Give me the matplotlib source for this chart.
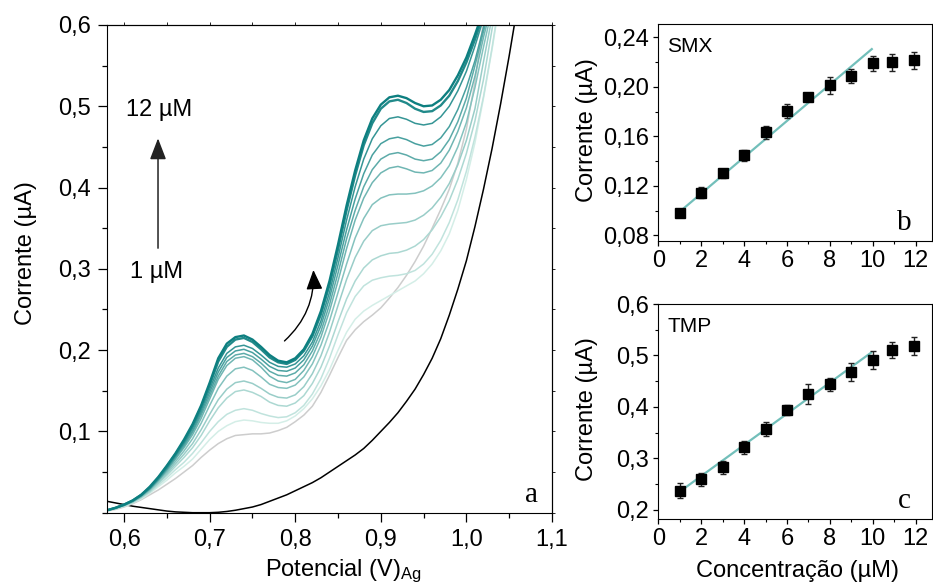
import numpy as np
import matplotlib.pyplot as plt
from matplotlib.ticker import FixedLocator, MultipleLocator, FuncFormatter
from matplotlib.colors import LinearSegmentedColormap

plt.rcParams['font.family'] = ['Liberation Sans', 'DejaVu Sans']
plt.rcParams['mathtext.fontset'] = 'custom'
plt.rcParams['mathtext.rm'] = 'Liberation Sans'
plt.rcParams['mathtext.it'] = 'Liberation Sans'

# --- (a) voltammograms: potential (V) and current (uA) ---
potential = [0.58, 0.59, 0.60, 0.61, 0.62, 0.63, 0.64, 0.65, 0.66, 0.67, 0.68, 0.69, 0.70,
             0.71, 0.72, 0.73, 0.74, 0.75, 0.76, 0.77, 0.78, 0.79, 0.80, 0.81, 0.82, 0.83,
             0.84, 0.85, 0.86, 0.87, 0.88, 0.89, 0.90, 0.91, 0.92, 0.93, 0.94, 0.95, 0.96,
             0.97, 0.98, 0.99, 1.00, 1.01, 1.02, 1.03, 1.04, 1.05, 1.06]

blank = [0.014, 0.012, 0.010, 0.008, 0.0065, 0.005, 0.0035, 0.002, 0.001, 0.0005, 0.000, 0.000, 0.000,
         0.0005, 0.0015, 0.003, 0.005, 0.007, 0.010, 0.014, 0.018, 0.022, 0.027, 0.032, 0.037, 0.043,
         0.050, 0.057, 0.064, 0.071, 0.079, 0.089, 0.100, 0.111, 0.123, 0.137, 0.152, 0.170, 0.190,
         0.214, 0.243, 0.275, 0.310, 0.352, 0.398, 0.448, 0.503, 0.562, 0.625]

cur_01 = [0.002, 0.004, 0.007, 0.011, 0.016, 0.022, 0.028, 0.035, 0.042, 0.050, 0.058, 0.068, 0.077,
          0.085, 0.091, 0.095, 0.096, 0.097, 0.097, 0.098, 0.101, 0.105, 0.112, 0.120, 0.131, 0.148,
          0.169, 0.191, 0.212, 0.225, 0.235, 0.243, 0.252, 0.264, 0.277, 0.292, 0.309, 0.328, 0.350,
          0.373, 0.398, 0.430, 0.472, 0.530, 0.605, 0.690, 0.780, 0.860, 0.950]
cur_02 = [0.003, 0.005, 0.008, 0.012, 0.017, 0.024, 0.032, 0.040, 0.049, 0.057, 0.066, 0.078, 0.090,
          0.100, 0.107, 0.112, 0.114, 0.113, 0.111, 0.110, 0.110, 0.113, 0.119, 0.128, 0.140, 0.156,
          0.176, 0.200, 0.222, 0.238, 0.248, 0.255, 0.261, 0.267, 0.273, 0.279, 0.285, 0.294, 0.306,
          0.322, 0.343, 0.372, 0.410, 0.455, 0.510, 0.570, 0.635, 0.700, 0.745]
cur_03 = [0.003, 0.005, 0.008, 0.012, 0.018, 0.025, 0.034, 0.043, 0.053, 0.062, 0.073, 0.086, 0.100,
          0.112, 0.121, 0.126, 0.128, 0.126, 0.122, 0.119, 0.117, 0.118, 0.123, 0.132, 0.146, 0.165,
          0.190, 0.219, 0.246, 0.266, 0.279, 0.286, 0.289, 0.291, 0.292, 0.294, 0.298, 0.306, 0.318,
          0.335, 0.357, 0.385, 0.420, 0.462, 0.512, 0.572, 0.640, 0.700, 0.745]
cur_04 = [0.003, 0.005, 0.009, 0.013, 0.019, 0.026, 0.036, 0.046, 0.057, 0.068, 0.080, 0.095, 0.113,
          0.129, 0.141, 0.149, 0.151, 0.148, 0.143, 0.136, 0.132, 0.131, 0.135, 0.144, 0.159, 0.179,
          0.205, 0.235, 0.263, 0.285, 0.301, 0.311, 0.316, 0.319, 0.320, 0.323, 0.328, 0.336, 0.348,
          0.364, 0.384, 0.410, 0.442, 0.482, 0.533, 0.595, 0.655, 0.700, 0.745]
cur_05 = [0.003, 0.005, 0.009, 0.013, 0.019, 0.027, 0.037, 0.048, 0.060, 0.072, 0.085, 0.102, 0.121,
          0.139, 0.152, 0.160, 0.162, 0.159, 0.153, 0.146, 0.142, 0.141, 0.145, 0.155, 0.171, 0.193,
          0.222, 0.255, 0.287, 0.314, 0.334, 0.347, 0.353, 0.355, 0.356, 0.357, 0.360, 0.366, 0.375,
          0.388, 0.405, 0.428, 0.458, 0.497, 0.555, 0.610, 0.660, 0.705, 0.745]
cur_06 = [0.003, 0.006, 0.009, 0.014, 0.020, 0.028, 0.039, 0.050, 0.063, 0.076, 0.091, 0.110, 0.132,
          0.153, 0.168, 0.177, 0.179, 0.175, 0.167, 0.158, 0.154, 0.153, 0.157, 0.167, 0.183, 0.206,
          0.236, 0.271, 0.306, 0.338, 0.362, 0.379, 0.387, 0.391, 0.392, 0.392, 0.393, 0.396, 0.402,
          0.412, 0.427, 0.450, 0.480, 0.523, 0.573, 0.620, 0.665, 0.710, 0.750]
cur_07 = [0.003, 0.006, 0.009, 0.014, 0.020, 0.029, 0.040, 0.052, 0.066, 0.080, 0.096, 0.116, 0.140,
          0.164, 0.181, 0.190, 0.192, 0.188, 0.179, 0.168, 0.162, 0.160, 0.164, 0.175, 0.192, 0.216,
          0.248, 0.285, 0.325, 0.360, 0.387, 0.406, 0.418, 0.424, 0.426, 0.423, 0.419, 0.418, 0.421,
          0.430, 0.446, 0.469, 0.498, 0.537, 0.585, 0.626, 0.668, 0.710, 0.750]
cur_08 = [0.003, 0.006, 0.009, 0.014, 0.021, 0.029, 0.040, 0.053, 0.067, 0.082, 0.099, 0.120, 0.144,
          0.168, 0.186, 0.194, 0.196, 0.192, 0.184, 0.174, 0.169, 0.168, 0.172, 0.182, 0.199, 0.223,
          0.256, 0.295, 0.337, 0.372, 0.401, 0.422, 0.435, 0.441, 0.443, 0.440, 0.435, 0.433, 0.435,
          0.444, 0.459, 0.481, 0.510, 0.550, 0.592, 0.630, 0.670, 0.710, 0.750]
cur_09 = [0.003, 0.006, 0.010, 0.014, 0.021, 0.030, 0.041, 0.054, 0.069, 0.084, 0.101, 0.123, 0.148,
          0.173, 0.191, 0.199, 0.201, 0.197, 0.189, 0.180, 0.175, 0.174, 0.178, 0.188, 0.205, 0.230,
          0.264, 0.305, 0.348, 0.386, 0.417, 0.440, 0.454, 0.460, 0.462, 0.459, 0.454, 0.451, 0.453,
          0.461, 0.475, 0.496, 0.523, 0.556, 0.597, 0.634, 0.672, 0.710, 0.750]
cur_10 = [0.003, 0.006, 0.010, 0.015, 0.021, 0.030, 0.042, 0.055, 0.070, 0.086, 0.104, 0.126, 0.152,
          0.178, 0.196, 0.204, 0.206, 0.202, 0.194, 0.185, 0.180, 0.179, 0.183, 0.193, 0.210, 0.236,
          0.271, 0.314, 0.360, 0.401, 0.435, 0.460, 0.476, 0.485, 0.487, 0.484, 0.479, 0.477, 0.479,
          0.487, 0.500, 0.519, 0.543, 0.574, 0.608, 0.642, 0.677, 0.713, 0.750]
cur_11 = [0.003, 0.006, 0.010, 0.015, 0.022, 0.031, 0.043, 0.057, 0.072, 0.088, 0.107, 0.130, 0.157,
          0.186, 0.204, 0.213, 0.215, 0.210, 0.201, 0.191, 0.185, 0.183, 0.188, 0.199, 0.217, 0.244,
          0.280, 0.324, 0.372, 0.415, 0.452, 0.479, 0.497, 0.506, 0.508, 0.504, 0.497, 0.493, 0.494,
          0.501, 0.513, 0.531, 0.554, 0.582, 0.613, 0.646, 0.681, 0.717, 0.755]
cur_12 = [0.003, 0.006, 0.010, 0.015, 0.022, 0.032, 0.044, 0.058, 0.073, 0.090, 0.109, 0.132, 0.160,
          0.190, 0.208, 0.216, 0.218, 0.213, 0.204, 0.194, 0.187, 0.185, 0.190, 0.201, 0.220, 0.248,
          0.285, 0.330, 0.378, 0.421, 0.458, 0.485, 0.502, 0.511, 0.513, 0.510, 0.504, 0.500, 0.501,
          0.508, 0.520, 0.538, 0.560, 0.588, 0.618, 0.650, 0.685, 0.720, 0.760]

currents = [cur_01, cur_02, cur_03, cur_04, cur_05, cur_06,
            cur_07, cur_08, cur_09, cur_10, cur_11, cur_12]

# --- (b), (c) calibration ---
conc = [1, 2, 3, 4, 5, 6, 7, 8, 9, 10, 10.9, 11.9]
smx = [0.0978, 0.1144, 0.1301, 0.1446, 0.1632, 0.1804, 0.1920, 0.2012, 0.2085, 0.2190, 0.2198, 0.2214]
smx_err = [0.001, 0.0043, 0.0036, 0.0043, 0.0054, 0.0057, 0.003, 0.007, 0.0057, 0.006, 0.0067, 0.0067]
tmp = [0.2364, 0.2591, 0.2825, 0.3214, 0.3570, 0.3940, 0.4250, 0.4440, 0.4673, 0.4906, 0.5100, 0.5180]
tmp_err = [0.0146, 0.013, 0.013, 0.013, 0.0133, 0.009, 0.0185, 0.0123, 0.0178, 0.0172, 0.0152, 0.0175]

fit_smx_x = [1.0, 9.95]
fit_smx_y = [0.0991, 0.2305]
fit_tmp_x = [0.93, 9.92]
fit_tmp_y = [0.233, 0.5055]

xticks_a = [0.6, 0.7, 0.8, 0.9, 1.0, 1.1]
yticks_a = [0.1, 0.2, 0.3, 0.4, 0.5, 0.6]
xticks_bc = [0, 2, 4, 6, 8, 10, 12]
yticks_b = [0.08, 0.12, 0.16, 0.20, 0.24]
yticks_c = [0.2, 0.3, 0.4, 0.5, 0.6]

FS = 17


def comma(fmt):
    return FuncFormatter(lambda v, p: fmt.format(v).replace('.', ','))


fig = plt.figure(figsize=(9.33, 5.85), dpi=100)

# ---------------- panel a ----------------
ax = fig.add_axes([0.1147, 0.1236, 0.4769, 0.8337])
teal = LinearSegmentedColormap.from_list('teal', ['#d4eee7', '#0d7f80'])
colors = ['#cdcdcd'] + [teal(k / 10) for k in range(11)]

ax.plot(potential, blank, color='black', lw=1.1)
for k, cur in enumerate(currents):
    lw = 1.7 if k >= 10 else 1.1
    ax.plot(potential, cur, color=colors[k], lw=lw)

ax.set_xlim(0.58, 1.1)
ax.set_ylim(0, 0.6)
ax.xaxis.set_major_locator(FixedLocator(xticks_a))
ax.yaxis.set_major_locator(FixedLocator(yticks_a))
ax.xaxis.set_minor_locator(MultipleLocator(0.05))
ax.yaxis.set_minor_locator(MultipleLocator(0.05))
ax.xaxis.set_major_formatter(comma('{:.1f}'))
ax.yaxis.set_major_formatter(comma('{:.1f}'))
ax.tick_params(which='major', length=6.5, width=0.9, pad=5, labelsize=FS)
ax.tick_params(which='minor', length=3.5, width=0.9)

sec_x = ax.secondary_xaxis('top')
sec_x.xaxis.set_major_locator(MultipleLocator(0.05))
sec_x.tick_params(length=2, width=0.6, labeltop=False)
sec_y = ax.secondary_yaxis('right')
sec_y.yaxis.set_major_locator(MultipleLocator(0.05))
sec_y.tick_params(length=2, width=0.6, labelright=False)

ax.set_ylabel('Corrente (µA)', fontsize=FS)
ax.yaxis.set_label_coords(-0.157, 0.532)
ax.set_xlabel('Potencial (V)$_{\\rm Ag}$', fontsize=FS)
ax.xaxis.set_label_coords(0.53, -0.092)

ax.annotate('', xy=(0.6396, 0.464), xytext=(0.6396, 0.322),
            arrowprops=dict(arrowstyle='-|>,head_length=0.65,head_width=0.25',
                            color='#222222', lw=1.1, mutation_scale=20))
ax.text(0.641, 0.495, '12 µM', ha='center', va='center', fontsize=FS)
ax.text(0.638, 0.296, '1 µM', ha='center', va='center', fontsize=FS)
ax.annotate('', xy=(0.821, 0.302), xytext=(0.785, 0.209),
            arrowprops=dict(arrowstyle='-|>,head_length=0.6,head_width=0.25',
                            color='black', lw=1.0, mutation_scale=20,
                            connectionstyle='arc3,rad=0.25'))
ax.text(0.955, 0.036, 'a', transform=ax.transAxes, ha='center', va='center',
        family='Liberation Serif', fontsize=21)

# ---------------- panels b and c ----------------
axb = fig.add_axes([0.7056, 0.5885, 0.2934, 0.3705])
axc = fig.add_axes([0.7056, 0.1123, 0.2934, 0.3680])

panels = [
    (axb, smx, smx_err, fit_smx_x, fit_smx_y, (0.0756, 0.2508), yticks_b, 0.02, '{:.2f}', 'SMX', 'b'),
    (axc, tmp, tmp_err, fit_tmp_x, fit_tmp_y, (0.1813, 0.6), yticks_c, 0.05, '{:.1f}', 'TMP', 'c'),
]
for axp, vals, err, fx, fy, ylim, yt, ymin, fmt, name, letter in panels:
    axp.plot(fx, fy, color='#72bfba', lw=1.6, zorder=1)
    axp.errorbar(conc, vals, yerr=err, fmt='s', color='black', ms=6.5, ecolor='#222222',
                 elinewidth=1.0, capsize=2, capthick=1.0, zorder=2)
    axp.set_xlim(0, 12.76)
    axp.set_ylim(*ylim)
    axp.xaxis.set_major_locator(FixedLocator(xticks_bc))
    axp.yaxis.set_major_locator(FixedLocator(yt))
    axp.xaxis.set_minor_locator(MultipleLocator(1))
    axp.yaxis.set_minor_locator(MultipleLocator(ymin))
    axp.yaxis.set_major_formatter(comma(fmt))
    axp.tick_params(which='major', length=3.5, width=0.9, pad=3, labelsize=FS)
    axp.tick_params(which='minor', length=2, width=0.8)
    axp.set_ylabel('Corrente (µA)', fontsize=FS)
    axp.yaxis.set_label_coords(-0.22, 0.51)
    axp.text(0.032, 0.894, name, transform=axp.transAxes, ha='left', va='center', fontsize=15)
    axp.text(0.898, 0.084, letter, transform=axp.transAxes, ha='center', va='center',
             family='Liberation Serif', fontsize=21)

axc.set_xlabel('Concentração (µM)', fontsize=FS)
axc.xaxis.set_label_coords(0.509, -0.19)

fig.savefig('out.png', dpi=100)
